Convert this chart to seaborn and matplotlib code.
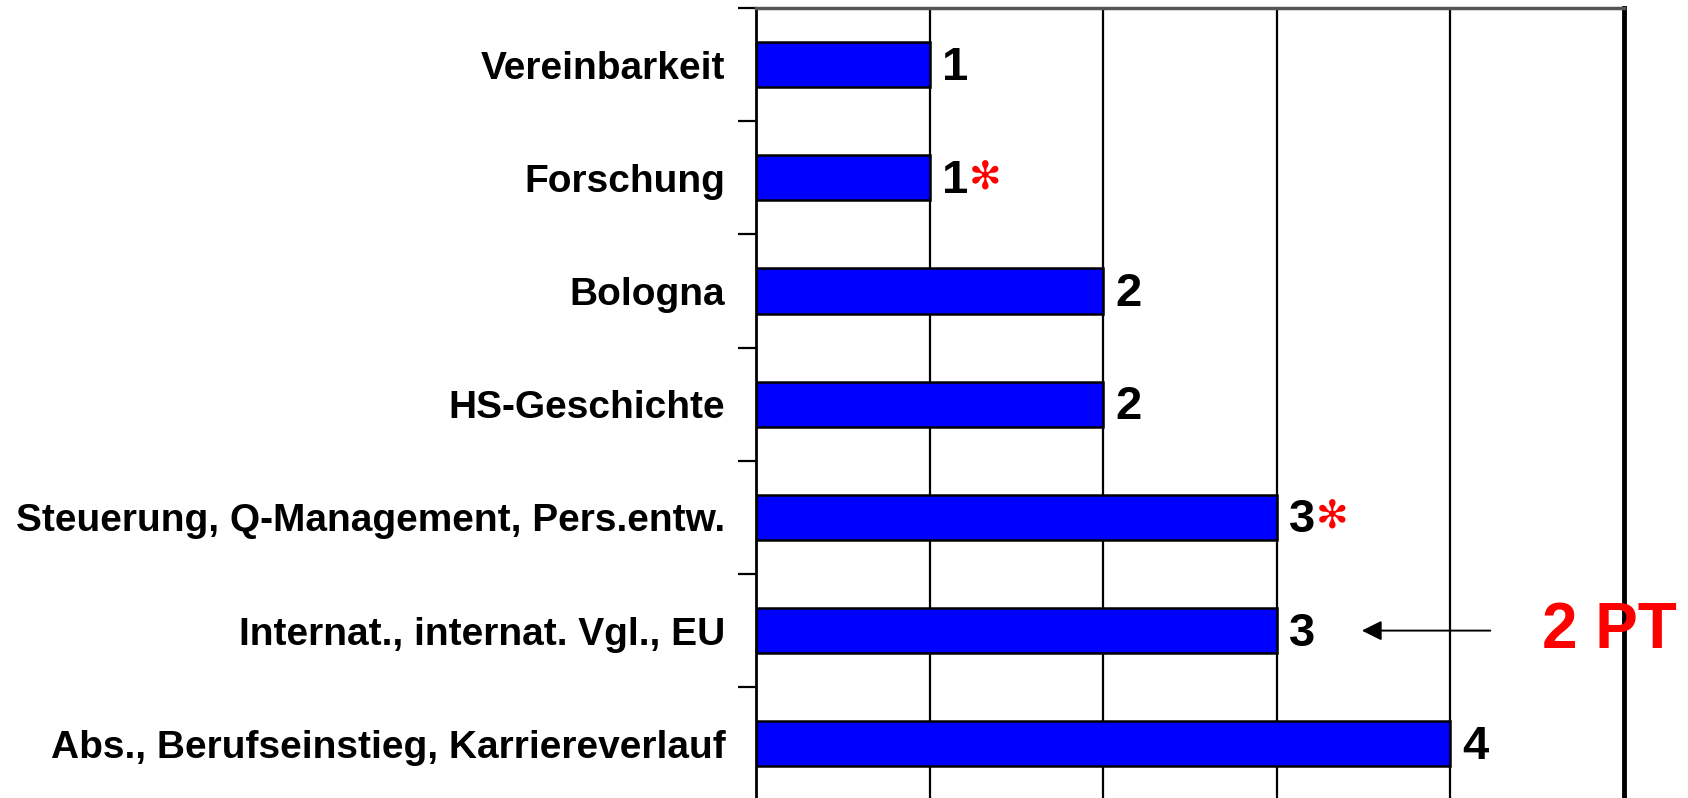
import matplotlib
matplotlib.use("Agg")
import matplotlib.pyplot as plt
import seaborn as sns
import pandas as pd
import numpy as np

categories = ["Vereinbarkeit", "Forschung", "Bologna", "HS-Geschichte",
              "Steuerung, Q-Management, Pers.entw.",
              "Internat., internat. Vgl., EU",
              "Abs., Berufseinstieg, Karriereverlauf"]
values = [1, 1, 2, 2, 3, 3, 4]
starred = [False, True, False, False, True, False, False]
annotation_text = "2 PT"
annotation_row = 5

sns.set_theme(style="white")
plt.rcParams['font.family'] = ['Liberation Sans', 'DejaVu Sans']
plt.rcParams['text.color'] = 'black'
plt.rcParams['ytick.color'] = 'black'
plt.rcParams['ytick.labelcolor'] = 'black'

df = pd.DataFrame({"cat": categories, "val": values})

fig = plt.figure(figsize=(16.88, 7.98), dpi=100)
ax = fig.add_axes([756/1688, -0.003, 868/1688, (798-8)/798 + 0.003])

sns.barplot(data=df, y="cat", x="val", orient="h", color="#0000FF",
            saturation=1, width=0.4, edgecolor="black", linewidth=1.8, ax=ax)

ax.set_xlim(0, 5)
ax.set_ylim(len(categories) - 0.5, -0.5)
ax.set_xlabel("")
ax.set_ylabel("")
ax.set_xticks([0, 1, 2, 3, 4, 5])
ax.tick_params(axis="x", length=0, labelbottom=False)
ax.grid(False)
for xv in [1, 2, 3, 4]:
    ax.axvline(xv, color="black", lw=1.6, zorder=0)

ax.set_yticks(range(len(categories)))
ax.set_yticklabels(categories, fontsize=28, fontweight="bold", color="black")
ax.set_yticks(np.arange(-0.5, len(categories) - 1, 1.0), minor=True)
ax.tick_params(axis="y", which="major", length=0, pad=22)
ax.tick_params(axis="y", which="minor", length=13, width=1.6, color="black",
               direction="out", left=True)

for s in ["left", "right", "top", "bottom"]:
    ax.spines[s].set_color("black")
ax.spines["left"].set_linewidth(2)
ax.spines["right"].set_linewidth(3.5)
ax.spines["top"].set_linewidth(2.5)
ax.spines["top"].set_color("#555555")
ax.spines["bottom"].set_visible(False)

for i, (v, st) in enumerate(zip(values, starred)):
    t = ax.annotate(str(v), xy=(v, i), xytext=(12, -3), textcoords="offset pixels",
                    ha="left", va="center", fontsize=34, fontweight="bold",
                    color="black", annotation_clip=False)
    if st:
        ax.annotate("\u273B", xy=(1, 0.58), xycoords=t, xytext=(1, 0),
                    textcoords="offset pixels", ha="left", va="center",
                    fontsize=28, fontweight="bold", color="#FF0000",
                    family="DejaVu Sans", annotation_clip=False)

ax.annotate("", xy=(3.49, annotation_row), xytext=(4.23, annotation_row),
            arrowprops=dict(arrowstyle="-|>", color="black", lw=1.4,
                            mutation_scale=30, shrinkA=0, shrinkB=0),
            annotation_clip=False)
ax.text(4.53, annotation_row, annotation_text, ha="left", va="center",
        fontsize=46, fontweight="bold", color="#FF0000", clip_on=False)

fig.savefig("out.png", dpi=100)
